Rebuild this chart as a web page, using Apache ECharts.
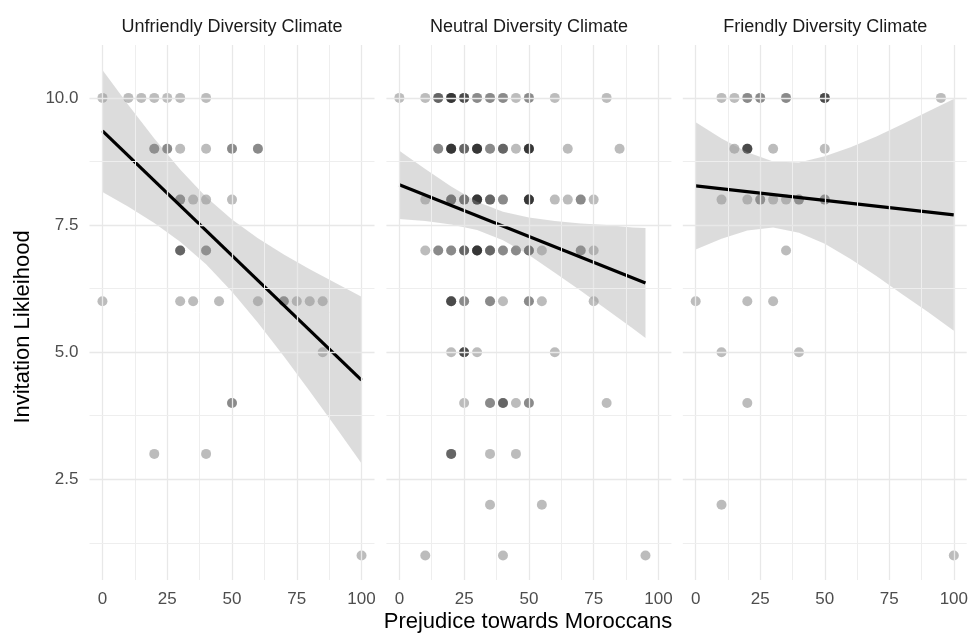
<!DOCTYPE html>
<html>
<head>
    <meta charset="utf-8">
    <title>Invitation likelihood by prejudice</title>
    <script src="https://cdn.jsdelivr.net/npm/echarts@6/dist/echarts.min.js"></script>
</head>
<body style="margin:0">
<div id="main" style="width:971px;height:635px;"></div>
<script type="text/javascript">
// facet titles and tick labels
var panelNames = ['Unfriendly Diversity Climate', 'Neutral Diversity Climate', 'Friendly Diversity Climate'];
var xTicks = [0, 25, 50, 75, 100];
var yTicks = [2.5, 5, 7.5, 10];
var xMinor = [12.5, 37.5, 62.5, 87.5];
var yMinor = [1.25, 3.75, 6.25, 8.75];

// points: [prejudice, likelihood, how many respondents share that spot]
var unfriendlyPts = [
    [0,10,1],[10,10,1],[15,10,1],[20,10,1],[25,10,1],[30,10,1],[40,10,1],
    [20,9,2],[25,9,2],[30,9,1],[40,9,1],[50,9,2],[60,9,2],
    [30,8,2],[35,8,1],[40,8,1],[50,8,1],
    [30,7,3],[40,7,2],
    [0,6,1],[30,6,1],[35,6,1],[45,6,1],[60,6,1],[70,6,2],[75,6,1],[80,6,1],[85,6,1],
    [85,5,1],[50,4,2],[20,3,1],[40,3,1],[100,1,1]
];
var neutralPts = [
    [0,10,1],[10,10,1],[15,10,3],[20,10,5],[25,10,4],[30,10,2],[35,10,2],[40,10,2],[45,10,1],[50,10,2],[60,10,1],[80,10,1],
    [15,9,2],[20,9,5],[25,9,3],[30,9,5],[35,9,2],[40,9,3],[45,9,1],[50,9,5],[65,9,1],[85,9,1],
    [10,8,1],[20,8,3],[25,8,3],[30,8,5],[35,8,3],[40,8,2],[50,8,5],[60,8,1],[65,8,1],[70,8,2],[75,8,1],
    [10,7,1],[15,7,2],[20,7,2],[25,7,3],[30,7,5],[35,7,3],[40,7,2],[45,7,2],[50,7,3],[55,7,1],[70,7,2],[75,7,1],
    [20,6,4],[25,6,2],[35,6,2],[40,6,1],[50,6,2],[55,6,1],[75,6,1],
    [20,5,1],[25,5,4],[30,5,1],[60,5,1],
    [25,4,1],[35,4,2],[40,4,3],[45,4,1],[50,4,2],[80,4,1],
    [20,3,3],[35,3,1],[45,3,1],
    [35,2,1],[55,2,1],
    [10,1,1],[40,1,1],[95,1,1]
];
var friendlyPts = [
    [10,10,1],[15,10,1],[20,10,2],[25,10,2],[35,10,2],[50,10,4],[95,10,1],
    [15,9,1],[20,9,4],[30,9,1],[50,9,1],
    [10,8,1],[20,8,1],[25,8,2],[30,8,1],[35,8,1],[40,8,2],[50,8,2],
    [35,7,1],
    [0,6,1],[20,6,1],[30,6,1],
    [10,5,1],[40,5,1],[20,4,1],[10,2,1],[100,1,1]
];

// fitted lines (end points)
var unfriendlyFit = [[0, 9.35], [100, 4.45]];
var neutralFit = [[0, 8.29], [95, 6.36]];
var friendlyFit = [[0, 8.27], [100, 7.70]];

// confidence bands
var bandX = [0, 10, 20, 30, 40, 50, 60, 70, 80, 90, 100];
var unfriendlyLo = [8.15, 7.86, 7.54, 7.17, 6.73, 6.19, 5.58, 4.92, 4.23, 3.53, 2.81];
var unfriendlyHi = [10.55, 9.86, 9.20, 8.59, 8.05, 7.61, 7.24, 6.92, 6.63, 6.36, 6.09];
var neutralX = [0, 10, 20, 30, 40, 50, 60, 70, 80, 90, 95];
var neutralLo = [7.62, 7.58, 7.51, 7.40, 7.20, 6.91, 6.56, 6.21, 5.84, 5.47, 5.28];
var neutralHi = [8.96, 8.60, 8.26, 7.96, 7.76, 7.65, 7.58, 7.53, 7.50, 7.45, 7.44];
var friendlyLo = [7.02, 7.23, 7.39, 7.45, 7.35, 7.13, 6.83, 6.50, 6.14, 5.79, 5.42];
var friendlyHi = [9.52, 9.20, 8.93, 8.75, 8.73, 8.85, 9.03, 9.24, 9.48, 9.73, 9.98];

var myChart = echarts.init(document.getElementById('main'));
var font = '"Liberation Sans", Arial, Helvetica, sans-serif';

var panelLeft = [89.5, 386.4, 682.8];
var panelWidth = 285;

var allPts = [unfriendlyPts, neutralPts, friendlyPts];
var allFit = [unfriendlyFit, neutralFit, friendlyFit];
var allBand = [
    { x: bandX, lo: unfriendlyLo, hi: unfriendlyHi },
    { x: neutralX, lo: neutralLo, hi: neutralHi },
    { x: bandX, lo: friendlyLo, hi: friendlyHi }
];

function expand(pts) {
    var out = [];
    pts.forEach(function (p) {
        for (var k = 0; k < p[2]; k++) out.push([p[0], p[1]]);
    });
    return out;
}

var grids = [], xAxes = [], yAxes = [], series = [], graphics = [];

for (var i = 0; i < 3; i++) {
    grids.push({ left: panelLeft[i], width: panelWidth, top: 45, bottom: 55 });
    xAxes.push({
        type: 'value', gridIndex: i, min: -5, max: 105,
        axisLine: { show: false }, axisTick: { show: false }, splitLine: { show: false },
        axisLabel: { customValues: xTicks, color: '#4d4d4d', fontSize: 17, fontFamily: font, margin: 11 }
    });
    yAxes.push({
        type: 'value', gridIndex: i, min: 0.52, max: 11.04,
        axisLine: { show: false }, axisTick: { show: false }, splitLine: { show: false },
        axisLabel: {
            show: i === 0, customValues: yTicks, color: '#4d4d4d', fontSize: 17, fontFamily: font, margin: 11,
            formatter: function (v) { return v.toFixed(1); }
        }
    });

    var gl = [];
    xTicks.forEach(function (v) { gl.push({ xAxis: v, lineStyle: { color: '#e8e8e8', width: 1.3 } }); });
    xMinor.forEach(function (v) { gl.push({ xAxis: v, lineStyle: { color: '#eeeeee', width: 1 } }); });
    yTicks.forEach(function (v) { gl.push({ yAxis: v, lineStyle: { color: '#e8e8e8', width: 1.3 } }); });
    yMinor.forEach(function (v) { gl.push({ yAxis: v, lineStyle: { color: '#eeeeee', width: 1 } }); });

    series.push({
        type: 'line', xAxisIndex: i, yAxisIndex: i, data: [], z: 0, silent: true,
        markLine: {
            silent: true, symbol: ['none', 'none'], label: { show: false }, animation: false,
            lineStyle: { type: 'solid' }, emphasis: { disabled: true }, data: gl
        }
    });

    series.push({
        type: 'scatter', xAxisIndex: i, yAxisIndex: i, z: 2, silent: true,
        symbolSize: 10,
        itemStyle: { color: 'rgba(0,0,0,0.33)' },
        data: expand(allPts[i])
    });

    (function (band) {
        series.push({
            type: 'custom', xAxisIndex: i, yAxisIndex: i, z: 3, silent: true,
            data: band.x.map(function (x, k) { return [x, band.lo[k], band.hi[k]]; }),
            encode: { x: 0, y: [1, 2] },
            renderItem: function (params, api) {
                if (params.dataIndex !== 0) return null;
                var pts = [];
                for (var k = 0; k < band.x.length; k++) pts.push(api.coord([band.x[k], band.hi[k]]));
                for (var k2 = band.x.length - 1; k2 >= 0; k2--) pts.push(api.coord([band.x[k2], band.lo[k2]]));
                return { type: 'polygon', shape: { points: pts, smooth: 0 }, style: { fill: 'rgba(153,153,153,0.34)' } };
            }
        });
    })(allBand[i]);

    series.push({
        type: 'line', xAxisIndex: i, yAxisIndex: i, z: 4, silent: true,
        symbol: 'none', data: allFit[i],
        lineStyle: { color: '#000', width: 3.2 }
    });

    graphics.push({
        type: 'text', x: panelLeft[i] + panelWidth / 2, y: 27,
        style: {
            text: panelNames[i], fill: '#1a1a1a', font: '18px ' + font,
            textAlign: 'center', textVerticalAlign: 'middle', align: 'center', verticalAlign: 'middle'
        }
    });
}

graphics.push({
    type: 'text', x: 528, y: 622,
    style: {
        text: 'Prejudice towards Moroccans', fill: '#000', font: '22px ' + font,
        textAlign: 'center', textVerticalAlign: 'middle', align: 'center', verticalAlign: 'middle'
    }
});
graphics.push({
    type: 'text', x: 23, y: 327, rotation: Math.PI / 2,
    style: {
        text: 'Invitation Likleihood', fill: '#000', font: '22px ' + font,
        textAlign: 'center', textVerticalAlign: 'middle', align: 'center', verticalAlign: 'middle'
    }
});

var option = {
    backgroundColor: '#ffffff',
    animation: false,
    tooltip: { show: false },
    grid: grids,
    xAxis: xAxes,
    yAxis: yAxes,
    series: series,
    graphic: graphics
};

myChart.setOption(option);
</script>
</body>
</html>
